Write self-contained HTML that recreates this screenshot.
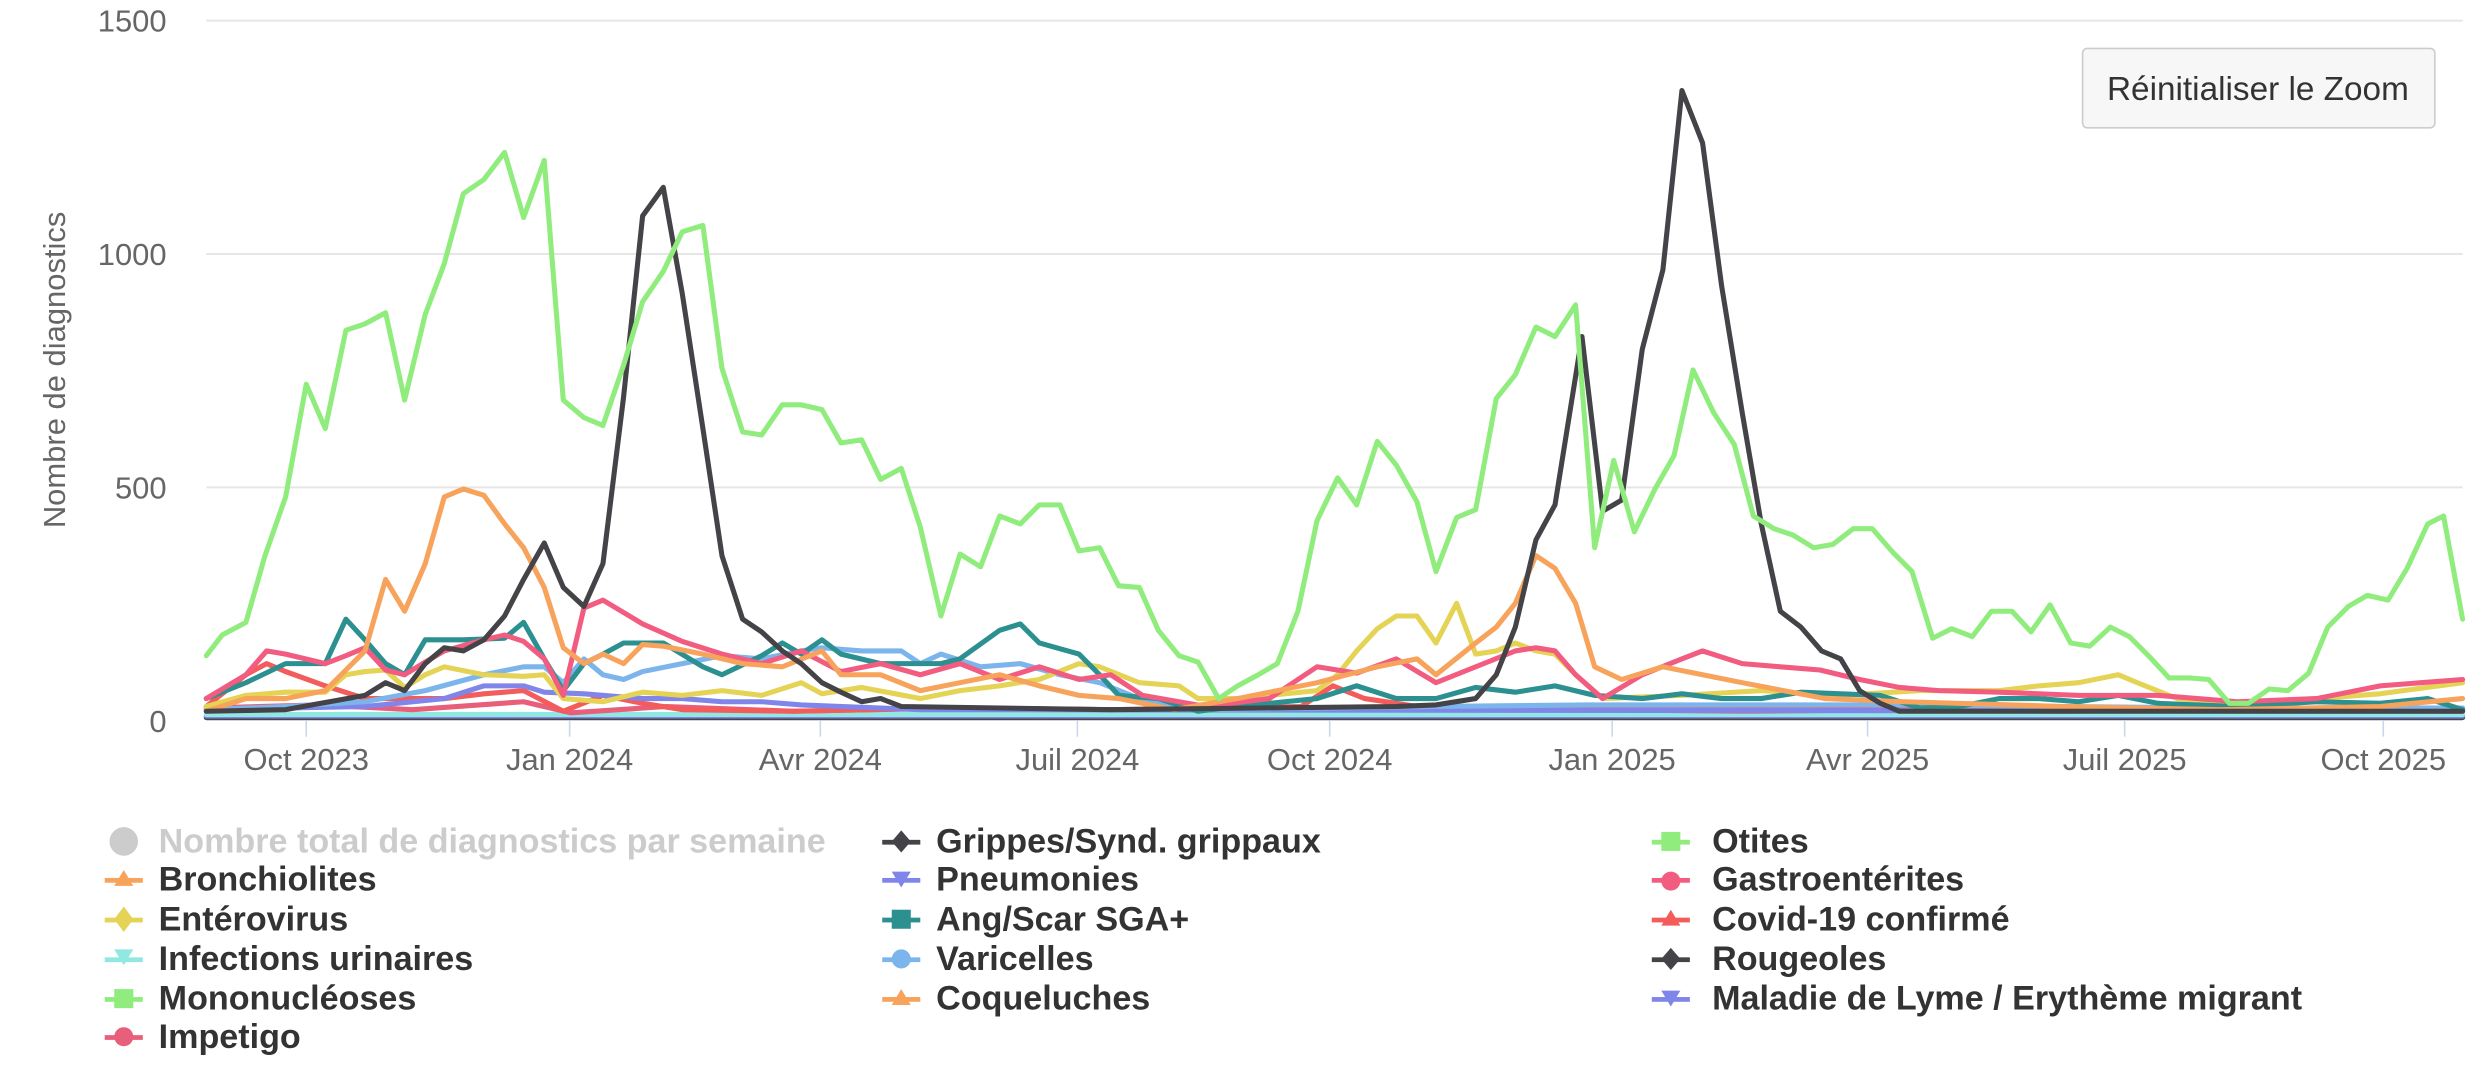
<!DOCTYPE html>
<html><head><meta charset="utf-8"><style>
html,body{margin:0;padding:0;background:#fff;width:2488px;height:1078px;overflow:hidden}
svg{display:block}
text{font-family:"Liberation Sans",sans-serif}
.t{fill:#666;font-size:19.5px}
.l{fill:#333;font-size:21.5px;font-weight:bold}
.s{fill:none;stroke-width:3.2;stroke-linejoin:round;stroke-linecap:round}
</style></head><body>
<svg width="2488" height="1078" viewBox="0 0 1568 679" preserveAspectRatio="none">
<g stroke="#e6e6e6" stroke-width="1.3">
<line x1="130" y1="13" x2="1552" y2="13"/><line x1="130" y1="160" x2="1552" y2="160"/>
<line x1="130" y1="307" x2="1552" y2="307"/><line x1="130" y1="453.5" x2="1552" y2="453.5"/>
</g>
<g stroke="#ccd6eb" stroke-width="1"><line x1="193" y1="454" x2="193" y2="464"/><line x1="359" y1="454" x2="359" y2="464"/><line x1="517" y1="454" x2="517" y2="464"/><line x1="679" y1="454" x2="679" y2="464"/><line x1="838" y1="454" x2="838" y2="464"/><line x1="1016" y1="454" x2="1016" y2="464"/><line x1="1177" y1="454" x2="1177" y2="464"/><line x1="1339" y1="454" x2="1339" y2="464"/><line x1="1502" y1="454" x2="1502" y2="464"/></g>
<g class="t" text-anchor="end"><text x="105" y="20">1500</text><text x="105" y="167">1000</text><text x="105" y="314">500</text><text x="105" y="461">0</text></g>
<g class="t" text-anchor="middle"><text x="193" y="485">Oct 2023</text><text x="359" y="485">Jan 2024</text><text x="517" y="485">Avr 2024</text><text x="679" y="485">Juil 2024</text><text x="838" y="485">Oct 2024</text><text x="1016" y="485">Jan 2025</text><text x="1177" y="485">Avr 2025</text><text x="1339" y="485">Juil 2025</text><text x="1502" y="485">Oct 2025</text></g>
<text class="t" transform="translate(41,233) rotate(-90)" text-anchor="middle" style="font-size:19.5px">Nombre de diagnostics</text>
<g class="s">
<polyline stroke="#434348" points="130,452 1552,452"/>
<polyline stroke="#8085e9" points="130,451 1552,451"/>
<polyline stroke="#91e8e1" points="130,450 1552,450"/>
<polyline stroke="#e75f7a" points="130,446 200,444 260,447 330,442 360,449 420,445 500,448 600,446 700,447 800,447 900,446 1000,447 1100,448 1200,447 1300,448 1400,447 1552,448"/>
<polyline stroke="#f45b5b" points="130,445 155,425 168,418 180,423 205,432 230,440 255,440 280,440 305,437 330,435 355,448 380,438 405,443 430,447 500,448 600,446 700,447 820,445 840,432 860,440 900,446 1000,447 1100,446 1200,447 1300,446 1400,447 1500,446 1552,447"/>
<polyline stroke="#8085e9" points="130,447 230,445 280,440 305,432 330,432 343,436 368,437 405,440 430,440 455,442 480,442 505,444 580,447 1552,448"/>
<polyline stroke="#7cb5ec" points="130,447 180,445 230,442 268,435 305,425 330,420 343,420 355,430 368,415 380,425 393,428 405,423 430,418 455,413 480,415 505,410 518,408 543,410 568,410 580,418 593,412 618,420 643,418 668,425 693,430 718,440 755,447 900,445 1000,444 1100,444 1200,444 1300,445 1400,446 1552,446"/>
<polyline stroke="#e4d354" points="130,445 155,438 180,436 205,436 218,425 230,423 243,422 255,433 268,425 280,420 305,425 330,426 343,425 355,440 380,442 405,436 430,438 455,435 480,438 505,430 518,437 543,433 580,440 605,435 630,432 655,428 680,418 693,420 718,430 743,432 755,440 780,440 830,435 843,425 855,410 868,396 880,388 893,388 905,405 918,380 930,412 943,410 955,405 968,410 980,412 993,425 1010,440 1060,438 1110,435 1160,438 1210,435 1260,435 1285,432 1310,430 1335,425 1347,430 1372,440 1410,443 1460,440 1500,437 1552,430"/>
<polyline stroke="#2b908f" points="130,440 155,430 180,418 205,418 218,390 230,403 243,418 255,425 268,403 292,403 318,402 330,392 343,415 355,435 368,418 380,412 393,405 418,405 443,420 455,425 480,413 493,405 505,412 518,403 530,412 555,418 580,418 593,418 605,415 630,397 643,393 655,405 680,412 693,425 705,438 730,440 755,448 780,445 830,440 855,432 880,440 905,440 930,433 955,436 980,432 1005,438 1035,440 1060,437 1085,440 1110,440 1135,436 1160,437 1185,438 1210,446 1235,445 1260,440 1285,440 1310,442 1335,438 1360,443 1410,445 1460,442 1500,443 1530,440 1552,447"/>
<polyline stroke="#f15c80" points="130,440 155,425 168,410 180,412 205,418 218,413 230,408 243,422 255,425 268,417 280,410 305,403 318,400 330,404 343,415 355,438 368,383 380,378 405,393 430,404 455,412 480,418 505,410 530,423 555,418 580,425 605,418 630,428 655,420 680,428 700,425 720,438 760,445 800,440 830,420 855,424 880,415 905,430 930,420 955,410 968,408 980,410 993,425 1010,440 1035,425 1060,415 1073,410 1098,418 1122,420 1147,422 1172,428 1197,433 1222,435 1260,436 1310,438 1360,438 1410,442 1460,440 1500,432 1552,428"/>
<polyline stroke="#f7a35c" points="130,448 155,440 180,440 205,435 230,410 243,365 255,385 268,355 280,313 292,308 305,312 318,330 330,345 343,370 355,408 368,418 380,412 393,418 405,406 418,407 443,412 468,418 493,420 518,410 530,425 555,425 580,435 605,430 630,425 655,432 680,438 705,440 740,447 780,440 830,430 868,420 893,415 905,425 930,405 943,395 955,380 968,350 980,358 993,380 1005,420 1022,428 1048,420 1073,425 1098,430 1150,440 1200,442 1300,445 1400,447 1500,445 1552,440"/>
<polyline stroke="#434348" points="130,448 180,447 230,438 243,430 255,435 268,418 280,408 292,410 305,403 318,388 330,365 343,342 355,370 368,382 380,355 393,250 405,136 418,118 430,185 443,270 455,350 468,390 480,398 493,410 505,418 518,430 530,436 543,442 555,440 568,445 700,447 880,445 905,444 930,440 943,425 955,395 968,340 980,318 997,212 1010,322 1022,315 1035,220 1048,170 1060,57 1073,90 1085,180 1098,260 1110,330 1122,385 1135,395 1148,410 1160,415 1172,435 1185,443 1197,448 1552,448"/>
<polyline stroke="#90ed7d" points="130,413 140,400 155,392 167,350 180,313 193,242 205,270 218,208 230,204 243,197 255,252 268,198 280,166 292,122 305,113 318,96 330,137 343,101 355,252 368,263 380,268 393,230 405,190 418,171 430,146 443,142 455,232 468,272 480,274 493,255 505,255 518,258 530,279 543,277 555,302 568,295 580,332 593,388 605,349 618,357 630,325 643,330 655,318 668,318 680,347 693,345 705,369 718,370 730,397 743,413 755,417 768,440 780,432 793,425 805,418 818,385 830,328 843,301 855,318 868,278 880,293 893,316 905,360 918,326 930,321 943,251 955,236 968,206 980,212 993,192 1005,345 1017,290 1030,335 1043,308 1055,287 1067,233 1080,260 1093,280 1105,325 1118,333 1130,337 1143,345 1155,343 1168,333 1180,333 1193,348 1205,360 1218,402 1230,396 1243,401 1255,385 1268,385 1280,398 1292,381 1305,405 1317,407 1330,395 1342,401 1355,414 1367,427 1380,427 1392,428 1405,443 1417,443 1430,434 1442,435 1455,424 1467,395 1480,382 1492,375 1505,378 1517,358 1530,330 1540,325 1552,390"/>
</g>
<rect x="1312.5" y="30.5" width="222" height="50" rx="3" fill="#f7f7f7" stroke="#ccc"/>
<text x="1423" y="63" text-anchor="middle" style="font-size:21px;fill:#333">Réinitialiser le Zoom</text>
<g class="l">
<circle cx="78" cy="530" r="9" fill="#ccc"/><text x="100" y="537" style="fill:#ccc">Nombre total de diagnostics par semaine</text>
<path d="M78,548 l6,10 h-12z" fill="#f7a35c"/><rect x="66" y="553" width="24" height="3" fill="#f7a35c"/><text x="100" y="561">Bronchiolites</text>
<path d="M78,571 l6,8 l-6,8 l-6,-8z" fill="#e4d354"/><rect x="66" y="578" width="24" height="3" fill="#e4d354"/><text x="100" y="586">Entérovirus</text>
<path d="M72,598 h12 l-6,10z" fill="#91e8e1"/><rect x="66" y="603" width="24" height="3" fill="#91e8e1"/><text x="100" y="611">Infections urinaires</text>
<rect x="72" y="623" width="12" height="12" fill="#90ed7d"/><rect x="66" y="628" width="24" height="3" fill="#90ed7d"/><text x="100" y="636">Mononucléoses</text>
<circle cx="78" cy="653" r="6" fill="#e75f7a"/><rect x="66" y="652" width="24" height="3" fill="#e75f7a"/><text x="100" y="660">Impetigo</text>
<path d="M568,523 l6,7 l-6,7 l-6,-7z" fill="#434348"/><rect x="556" y="529" width="24" height="3" fill="#434348"/><text x="590" y="537">Grippes/Synd. grippaux</text>
<path d="M562,549 h12 l-6,10z" fill="#8085e9"/><rect x="556" y="553" width="24" height="3" fill="#8085e9"/><text x="590" y="561">Pneumonies</text>
<rect x="562" y="573" width="12" height="12" fill="#2b908f"/><rect x="556" y="578" width="24" height="3" fill="#2b908f"/><text x="590" y="586">Ang/Scar SGA+</text>
<circle cx="568" cy="604" r="6" fill="#7cb5ec"/><rect x="556" y="603" width="24" height="3" fill="#7cb5ec"/><text x="590" y="611">Varicelles</text>
<path d="M568,623 l6,10 h-12z" fill="#f7a35c"/><rect x="556" y="628" width="24" height="3" fill="#f7a35c"/><text x="590" y="636">Coqueluches</text>
<rect x="1047" y="524" width="12" height="12" fill="#90ed7d"/><rect x="1041" y="529" width="24" height="3" fill="#90ed7d"/><text x="1079" y="537">Otites</text>
<circle cx="1053" cy="555" r="6" fill="#f15c80"/><rect x="1041" y="553" width="24" height="3" fill="#f15c80"/><text x="1079" y="561">Gastroentérites</text>
<path d="M1053,573 l6,10 h-12z" fill="#f45b5b"/><rect x="1041" y="578" width="24" height="3" fill="#f45b5b"/><text x="1079" y="586">Covid-19 confirmé</text>
<path d="M1053,597 l6,7 l-6,7 l-6,-7z" fill="#434348"/><rect x="1041" y="603" width="24" height="3" fill="#434348"/><text x="1079" y="611">Rougeoles</text>
<path d="M1047,624 h12 l-6,10z" fill="#8085e9"/><rect x="1041" y="628" width="24" height="3" fill="#8085e9"/><text x="1079" y="636">Maladie de Lyme / Erythème migrant</text>
</g>
</svg>
</body></html>
